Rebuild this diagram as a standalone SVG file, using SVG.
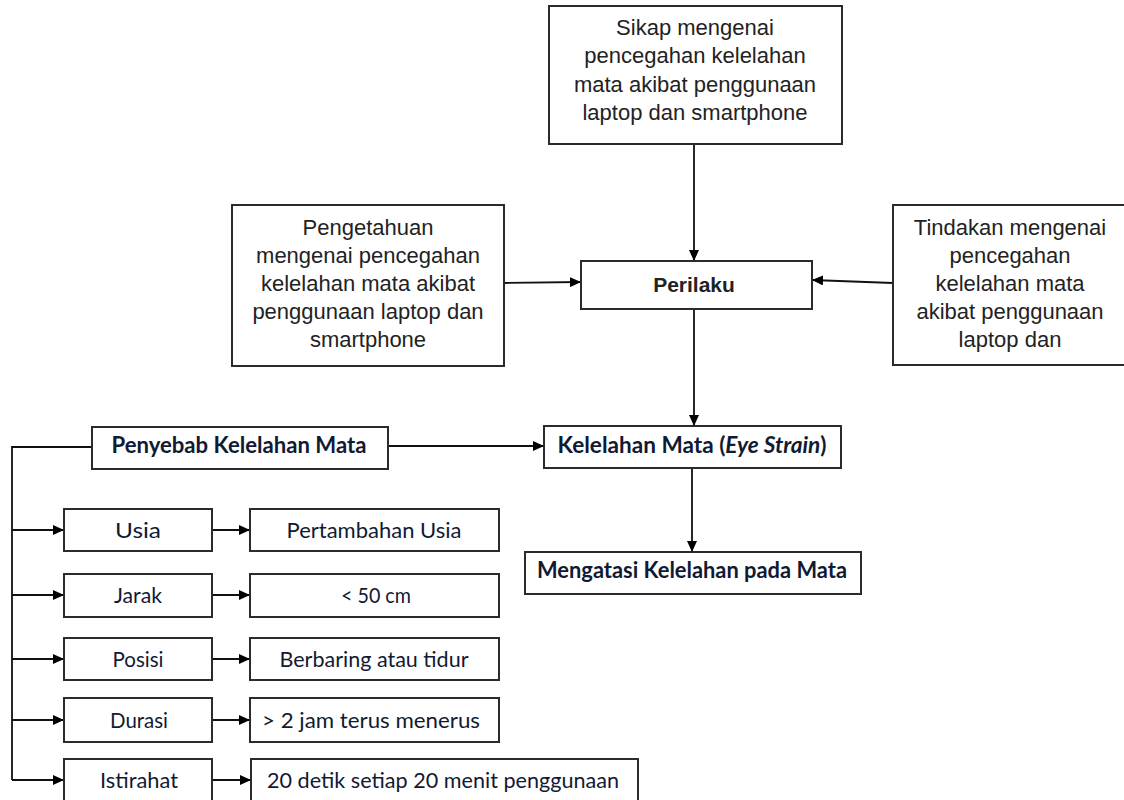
<svg xmlns="http://www.w3.org/2000/svg" width="1124" height="800" viewBox="0 0 1124 800">
<defs>
<marker id="ah" markerWidth="12" markerHeight="10" refX="11" refY="5" orient="auto" markerUnits="userSpaceOnUse"><path d="M0,0 L11,5 L0,10 z" fill="#000"/></marker>
<style>
.box{fill:#fff;stroke:#2b2b2b;stroke-width:2}
.ar{font-family:"Liberation Sans",Arial,sans-serif;font-size:22px;fill:#222;text-anchor:middle}
.pb{font-family:"Liberation Sans",Arial,sans-serif;font-weight:bold;font-size:21px;fill:#222;text-anchor:middle}
.cb{font-family:Lato,"Open Sans",sans-serif;font-size:22px;fill:#111a33;text-anchor:middle}
.cbb{font-family:Lato,"Open Sans",sans-serif;font-weight:bold;font-size:22px;fill:#111a33;text-anchor:middle}
.ln{fill:none;stroke:#111;stroke-width:1.8}
.la{fill:none;stroke:#111;stroke-width:1.8;marker-end:url(#ah)}
</style>
</defs>
<rect width="1124" height="800" fill="#fff"/>
<g id="connectors">
<path class="la" d="M694,144 V261"/>
<path class="la" d="M504,283 L581,282"/>
<path class="la" d="M893,283 L812,280"/>
<path class="la" d="M694,309 V426"/>
<path class="la" d="M692,468 V552"/>
<path class="la" d="M388,446 H544"/>
<path class="ln" d="M92,447 H12 V780"/>
<path class="la" d="M12,530 H64"/>
<path class="la" d="M12,595 H64"/>
<path class="la" d="M12,659 H64"/>
<path class="la" d="M12,720 H64"/>
<path class="la" d="M12,780 H64"/>
<path class="la" d="M212,530 H250"/>
<path class="la" d="M212,595 H250"/>
<path class="la" d="M212,659 H250"/>
<path class="la" d="M212,720 H250"/>
<path class="la" d="M212,780 H251"/>
</g>
<g id="sikap">
<rect class="box" x="549" y="6" width="293" height="138"/>
<text class="ar" x="695" y="35">Sikap mengenai</text>
<text class="ar" x="695" y="63">pencegahan kelelahan</text>
<text class="ar" x="695" y="92">mata akibat penggunaan</text>
<text class="ar" x="695" y="120">laptop dan smartphone</text>
</g>
<g id="pengetahuan">
<rect class="box" x="232" y="205" width="272" height="161"/>
<text class="ar" x="368" y="235">Pengetahuan</text>
<text class="ar" x="368" y="263">mengenai pencegahan</text>
<text class="ar" x="368" y="291">kelelahan mata akibat</text>
<text class="ar" x="368" y="319">penggunaan laptop dan</text>
<text class="ar" x="368" y="347">smartphone</text>
</g>
<g id="tindakan">
<rect class="box" x="893" y="205" width="240" height="160"/>
<text class="ar" x="1010" y="235">Tindakan mengenai</text>
<text class="ar" x="1010" y="263">pencegahan</text>
<text class="ar" x="1010" y="291">kelelahan mata</text>
<text class="ar" x="1010" y="319">akibat penggunaan</text>
<text class="ar" x="1010" y="347">laptop dan</text>
</g>
<g id="perilaku">
<rect class="box" x="581" y="261" width="231" height="48"/>
<text class="pb" x="694" y="292">Perilaku</text>
</g>
<g id="penyebab">
<rect class="box" x="92" y="427" width="296" height="42"/>
<text class="cbb" x="239" y="453" textLength="255" lengthAdjust="spacingAndGlyphs">Penyebab Kelelahan Mata</text>
</g>
<g id="kelelahan">
<rect class="box" x="544" y="426" width="297" height="42"/>
<text class="cbb" x="692" y="453" textLength="269" lengthAdjust="spacingAndGlyphs">Kelelahan Mata (<tspan font-style="italic">Eye Strain</tspan>)</text>
</g>
<g id="mengatasi">
<rect class="box" x="525" y="552" width="336" height="42"/>
<text class="cbb" x="692" y="578" textLength="310" lengthAdjust="spacingAndGlyphs">Mengatasi Kelelahan pada Mata</text>
</g>
<g id="usia">
<rect class="box" x="64" y="509" width="148" height="42"/>
<text class="cb" x="138" y="538" textLength="46" lengthAdjust="spacingAndGlyphs">Usia</text>
</g>
<g id="pertambahan-usia">
<rect class="box" x="250" y="509" width="249" height="42"/>
<text class="cb" x="374" y="538" textLength="175" lengthAdjust="spacingAndGlyphs">Pertambahan Usia</text>
</g>
<g id="jarak">
<rect class="box" x="64" y="574" width="148" height="43"/>
<text class="cb" x="138" y="603" textLength="48" lengthAdjust="spacingAndGlyphs">Jarak</text>
</g>
<g id="jarak-val">
<rect class="box" x="250" y="574" width="249" height="43"/>
<text class="cb" x="376" y="603" textLength="70" lengthAdjust="spacingAndGlyphs">&lt; 50 cm</text>
</g>
<g id="posisi">
<rect class="box" x="64" y="638" width="148" height="42"/>
<text class="cb" x="138" y="667" textLength="51" lengthAdjust="spacingAndGlyphs">Posisi</text>
</g>
<g id="posisi-val">
<rect class="box" x="250" y="638" width="249" height="42"/>
<text class="cb" x="374" y="667" textLength="189" lengthAdjust="spacingAndGlyphs">Berbaring atau tidur</text>
</g>
<g id="durasi">
<rect class="box" x="64" y="698" width="148" height="44"/>
<text class="cb" x="139" y="728" textLength="58" lengthAdjust="spacingAndGlyphs">Durasi</text>
</g>
<g id="durasi-val">
<rect class="box" x="250" y="698" width="249" height="44"/>
<text class="cb" x="371" y="728" textLength="218" lengthAdjust="spacingAndGlyphs">&gt; 2 jam terus menerus</text>
</g>
<g id="istirahat">
<rect class="box" x="64" y="759" width="148" height="44"/>
<text class="cb" x="139" y="788" textLength="78" lengthAdjust="spacingAndGlyphs">Istirahat</text>
</g>
<g id="istirahat-val">
<rect class="box" x="251" y="759" width="387" height="44"/>
<text class="cb" x="443" y="788" textLength="352" lengthAdjust="spacingAndGlyphs">20 detik setiap 20 menit penggunaan</text>
</g>
</svg>
